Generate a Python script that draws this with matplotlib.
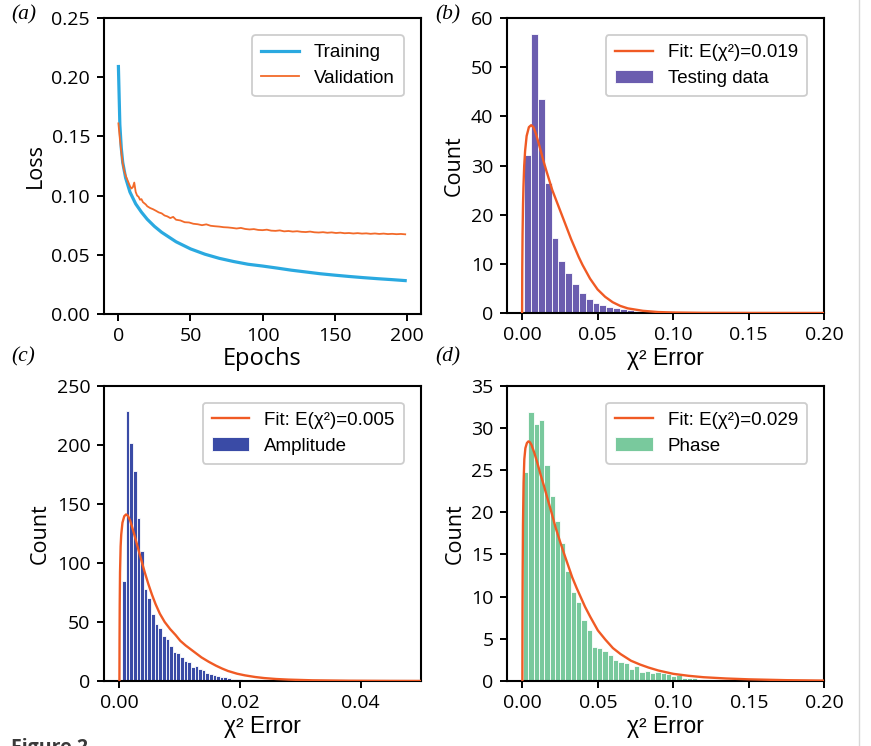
import numpy as np
import matplotlib
matplotlib.use("Agg")
import matplotlib.pyplot as plt
from matplotlib.lines import Line2D

plt.rcParams['font.family'] = ['Open Sans', 'DejaVu Sans']

# =========================================================
# DATA
# =========================================================
# (a) loss curves
train_epochs = [0, 1, 2, 3, 5, 8, 12, 16, 20, 25, 30, 40, 50, 60, 70, 80, 90,
                100, 110, 120, 130, 140, 150, 160, 170, 180, 190, 199]
train_loss = [0.209, 0.160, 0.140, 0.128, 0.115, 0.103, 0.093, 0.086, 0.080,
              0.074, 0.069, 0.061, 0.055, 0.0505, 0.047, 0.0443, 0.042, 0.0405,
              0.0388, 0.0370, 0.0355, 0.0340, 0.0328, 0.0317, 0.0307, 0.0298,
              0.0290, 0.0282]

val_epochs = [0, 1, 2, 3, 4, 5, 6, 7, 8, 9, 10, 11, 12, 13, 14, 15, 16, 17, 18,
              19, 20, 22, 24, 26, 28, 30, 32, 34, 36, 38, 40, 43, 46, 49, 52,
              55, 58, 61, 64, 67, 70, 73, 76, 79, 82, 85, 88, 91, 94, 97, 100,
              103, 106, 109, 112, 115, 118, 121, 124, 127, 130, 133, 136, 139,
              142, 145, 148, 151, 154, 157, 160, 163, 166, 169, 172, 175, 178,
              181, 184, 187, 190, 193, 196, 199]
val_loss = [0.161, 0.148, 0.137, 0.127, 0.121, 0.117, 0.114, 0.111, 0.108,
            0.106, 0.107, 0.111, 0.103, 0.100, 0.099, 0.0965, 0.097, 0.0945,
            0.0935, 0.0925, 0.091, 0.0895, 0.0885, 0.0872, 0.0858, 0.0850,
            0.0832, 0.0824, 0.0810, 0.0820, 0.0796, 0.0790, 0.0775, 0.0773,
            0.0762, 0.0758, 0.0750, 0.0757, 0.0745, 0.0741, 0.0738, 0.0733,
            0.0731, 0.0727, 0.0722, 0.0727, 0.0718, 0.0714, 0.0717, 0.0710,
            0.0708, 0.0712, 0.0704, 0.0702, 0.0706, 0.0698, 0.0701, 0.0696,
            0.0699, 0.0694, 0.0692, 0.0696, 0.0690, 0.0688, 0.0691, 0.0686,
            0.0689, 0.0684, 0.0687, 0.0682, 0.0684, 0.0680, 0.0683, 0.0679,
            0.0681, 0.0677, 0.0680, 0.0676, 0.0679, 0.0675, 0.0677, 0.0674,
            0.0676, 0.0673]

# (b) testing data histogram + fit
b_bin_start, b_bin_width = 0.0015, 0.00452
b_counts = [32.2, 56.7, 43.5, 26.4, 15.3, 10.5, 8.1, 6.0, 4.1, 2.9, 2.0, 1.6,
            1.2, 1.0, 0.8, 0.7, 0.5, 0.4, 0.3, 0.2, 0.15, 0.4]
b_fit_x = [0.0, 0.0001, 0.0003, 0.0006, 0.0009, 0.0014, 0.002, 0.003, 0.0045,
           0.006, 0.0075, 0.009, 0.011, 0.0125, 0.0141, 0.016, 0.018, 0.02,
           0.0225, 0.025, 0.0275, 0.03, 0.0325, 0.035, 0.0375, 0.04, 0.045,
           0.05, 0.055, 0.06, 0.065, 0.07, 0.08, 0.09, 0.10, 0.12, 0.15, 0.20]
b_fit_y = [0.0, 9.0, 16.0, 22.0, 25.7, 30.0, 33.0, 36.0, 37.8, 38.2, 37.8,
           36.6, 34.5, 32.8, 31.0, 29.0, 27.0, 25.0, 23.0, 21.0, 19.0, 17.0,
           15.0, 13.2, 11.4, 9.8, 7.0, 4.8, 3.3, 2.2, 1.45, 0.95, 0.45, 0.2,
           0.1, 0.03, 0.01, 0.0]
b_mean = "0.019"

# (c) amplitude histogram + fit
c_bin_start, c_bin_width = 0.00045, 0.0006
c_counts = [84.7, 228.8, 201.7, 177.8, 138.3, 110.0, 77.9, 70.0, 57.0, 48.0,
            45.0, 38.5, 35.3, 29.6, 24.8, 23.4, 20.6, 17.2, 16.4, 12.1, 13.0,
            9.9, 9.3, 7.1, 5.9, 5.1, 4.2, 3.7, 3.1, 2.5, 2.0, 1.8, 1.5, 1.2,
            1.0, 0.8, 0.6, 0.5, 0.4, 0.3, 0.3, 0.2, 0.2, 1.5, 0.2, 0.2, 0.5]
c_fit_x = [0.0, 0.00002, 0.00005, 0.0001, 0.0002, 0.0003, 0.0005, 0.0008,
           0.0011, 0.0014, 0.0018, 0.0023, 0.003, 0.0037, 0.0042, 0.0048,
           0.0054, 0.006, 0.0067, 0.0075, 0.0084, 0.0093, 0.0101, 0.011,
           0.0123, 0.0136, 0.0148, 0.016, 0.017, 0.018, 0.0195, 0.0208,
           0.0225, 0.024, 0.026, 0.028, 0.032, 0.038, 0.045, 0.05]
c_fit_y = [0.0, 35.0, 65.0, 92.0, 114.0, 124.0, 134.0, 139.5, 141.0, 140.0,
           135.5, 127.0, 114.0, 101.0, 92.0, 82.0, 73.0, 65.0, 57.0, 50.0,
           44.0, 39.0, 34.0, 30.0, 25.0, 20.0, 16.3, 13.0, 10.6, 8.5, 6.2,
           4.8, 3.4, 2.5, 1.7, 1.2, 0.6, 0.25, 0.1, 0.05]
c_mean = "0.005"

# (d) phase histogram + fit
d_bin_start, d_bin_width = 0.0005, 0.0035
d_counts = [24.8, 31.9, 30.5, 30.9, 25.6, 21.9, 19.0, 16.3, 13.0, 10.6, 9.4,
            7.2, 6.0, 4.0, 3.9, 3.6, 3.1, 2.5, 2.2, 2.1, 1.4, 1.8, 1.1, 1.2,
            0.9, 1.1, 0.9, 0.8, 0.6, 0.7, 0.4, 0.3, 0.3]
d_fit_x = [0.0, 0.0001, 0.0002, 0.0004, 0.0008, 0.0013, 0.002, 0.003, 0.004,
           0.005, 0.006, 0.008, 0.01, 0.012, 0.0145, 0.017, 0.0194, 0.022,
           0.025, 0.028, 0.0305, 0.033, 0.036, 0.039, 0.0415, 0.045, 0.05,
           0.055, 0.06, 0.065, 0.072, 0.078, 0.0835, 0.09, 0.10, 0.11, 0.12,
           0.135, 0.15, 0.175, 0.20]
d_fit_y = [0.0, 9.0, 13.0, 18.5, 23.5, 26.3, 27.6, 28.2, 28.4, 28.3, 28.0,
           27.0, 25.8, 24.5, 23.0, 21.4, 19.9, 18.2, 16.5, 14.9, 13.6, 12.3,
           11.0, 9.8, 8.8, 7.6, 6.0, 4.9, 3.9, 3.2, 2.4, 1.95, 1.6, 1.25,
           0.85, 0.62, 0.45, 0.3, 0.2, 0.1, 0.05]
d_mean = "0.029"

# =========================================================
# STYLE
# =========================================================
c_train = '#2AA9E0'
c_val = '#F26A2A'
c_fit = '#F05A24'
c_test = '#6B5DAF'
c_amp = '#3A4BA6'
c_phase = '#79C99D'

legend_font = {'family': ['Liberation Sans', 'DejaVu Sans'], 'size': 13.5}
label_x_font = dict(fontsize=16.5, family=['Liberation Sans', 'DejaVu Sans'])


def estilo(ax):
    for s in ax.spines.values():
        s.set_linewidth(1.5)
    ax.tick_params(direction='out', length=5, width=1.4, labelsize=14)
    ax.tick_params(axis='x', pad=4.5)
    ax.tick_params(axis='y', pad=5)


def leyenda(ax):
    leg = ax.legend(loc='upper right', prop=legend_font, borderaxespad=0.9,
                    labelspacing=0.45, borderpad=0.5, handlelength=2.0,
                    framealpha=0.9)
    leg.get_frame().set_edgecolor('#c8c8c8')
    leg.get_frame().set_linewidth(1.3)


def histograma(ax, start, width, counts, color, label, fit_x, fit_y, mean):
    lefts = start + width * np.arange(len(counts))
    ax.bar(lefts, counts, width=width, align='edge', color=color,
           edgecolor='white', linewidth=0.6, label=label, zorder=2)
    ax.plot(fit_x, fit_y, color=c_fit, linewidth=1.7, zorder=3,
            label=f"Fit: E(χ²)={mean}")
    ax.set_xlabel("χ² Error", labelpad=2, **label_x_font)
    ax.set_ylabel("Count", fontsize=15.5, labelpad=4)
    estilo(ax)
    leyenda(ax)


fig = plt.figure(figsize=(8.71, 7.46), dpi=100)

# =========================================================
# (a) LOSS
# =========================================================
ax_a = fig.add_axes([0.1194, 0.5791, 0.3640, 0.3968])
ax_a.plot(train_epochs, train_loss, color=c_train, linewidth=2.3, label='Training')
ax_a.plot(val_epochs, val_loss, color=c_val, linewidth=1.3, label='Validation')
ax_a.set_xlim(-10, 210)
ax_a.set_ylim(0, 0.25)
ax_a.set_xticks([0, 50, 100, 150, 200])
ax_a.set_yticks([0, 0.05, 0.10, 0.15, 0.20, 0.25])
ax_a.set_yticklabels(["0.00", "0.05", "0.10", "0.15", "0.20", "0.25"])
ax_a.set_xlabel("Epochs", fontsize=17, labelpad=1)
ax_a.set_ylabel("Loss", fontsize=15.5, labelpad=4)
estilo(ax_a)
leyenda(ax_a)

# =========================================================
# (b) TESTING DATA
# =========================================================
ax_b = fig.add_axes([0.5821, 0.5804, 0.3639, 0.3955])
histograma(ax_b, b_bin_start, b_bin_width, b_counts, c_test, 'Testing data',
           b_fit_x, b_fit_y, b_mean)
ax_b.set_xlim(-0.01, 0.20)
ax_b.set_ylim(0, 60)
ax_b.set_xticks([0, 0.05, 0.10, 0.15, 0.20])
ax_b.set_xticklabels(["0.00", "0.05", "0.10", "0.15", "0.20"])

# =========================================================
# (c) AMPLITUDE
# =========================================================
ax_c = fig.add_axes([0.1198, 0.0871, 0.3636, 0.3959])
histograma(ax_c, c_bin_start, c_bin_width, c_counts, c_amp, 'Amplitude',
           c_fit_x, c_fit_y, c_mean)
ax_c.set_xlim(-0.0025, 0.05)
ax_c.set_ylim(0, 250)
ax_c.set_xticks([0, 0.02, 0.04])
ax_c.set_xticklabels(["0.00", "0.02", "0.04"])

# =========================================================
# (d) PHASE
# =========================================================
ax_d = fig.add_axes([0.5824, 0.0871, 0.3640, 0.3959])
histograma(ax_d, d_bin_start, d_bin_width, d_counts, c_phase, 'Phase',
           d_fit_x, d_fit_y, d_mean)
ax_d.set_xlim(-0.01, 0.20)
ax_d.set_ylim(0, 35)
ax_d.set_xticks([0, 0.05, 0.10, 0.15, 0.20])
ax_d.set_xticklabels(["0.00", "0.05", "0.10", "0.15", "0.20"])

# =========================================================
# PANEL LABELS
# =========================================================
panel_font = dict(family=['Liberation Serif', 'DejaVu Serif'], style='italic',
                  fontsize=15.5, va='center')
fig.text(0.013, 0.980, "(a)", **panel_font)
fig.text(0.500, 0.980, "(b)", **panel_font)
fig.text(0.013, 0.521, "(c)", **panel_font)
fig.text(0.500, 0.521, "(d)", **panel_font)

fig.text(0.013, 0.011, "Figure 2", fontsize=14, fontweight='bold',
         color='#3a3a3a', va='top')
fig.add_artist(Line2D([0.986, 0.986], [0, 1], color='#d8d8d8', linewidth=1.0))

fig.savefig("out.png", dpi=100)
